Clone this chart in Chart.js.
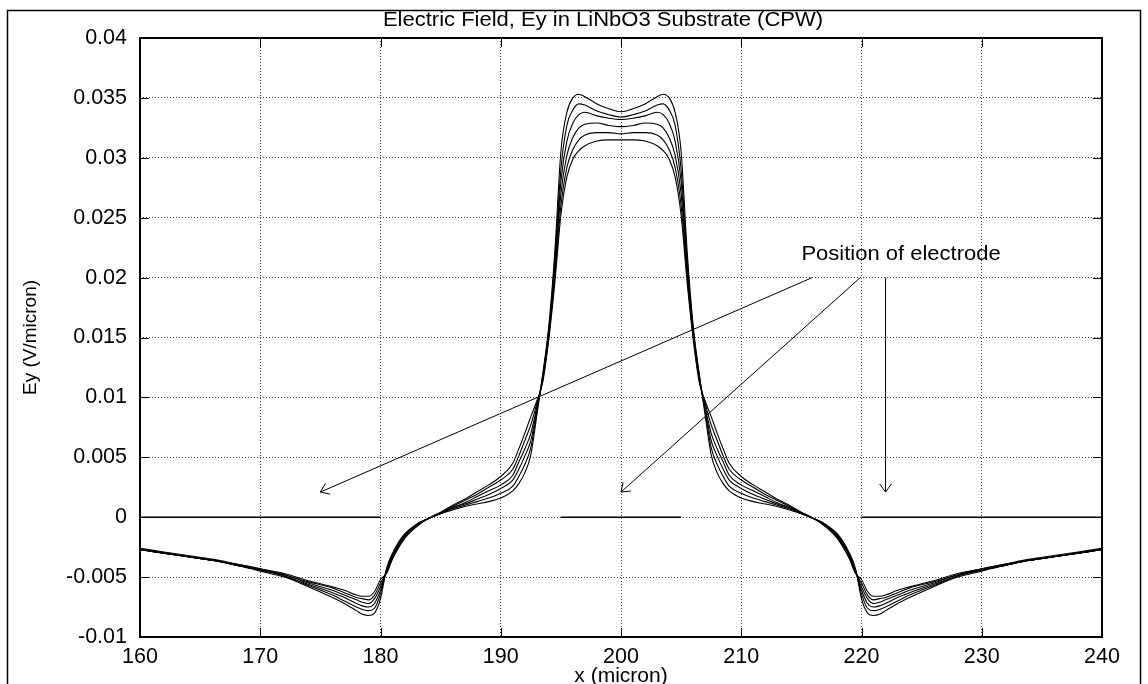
<!DOCTYPE html>
<html>
<head>
<meta charset="utf-8">
<title>Electric Field, Ey in LiNbO3 Substrate (CPW)</title>
<script src="https://cdn.jsdelivr.net/npm/chart.js@4"></script>
<style>
html, body { margin: 0; padding: 0; background: #fff; }
#wrap { width: 1148px; height: 684px; }
</style>
</head>
<body>
<div id="wrap"><canvas id="efield" width="1148" height="684"></canvas></div>
<script>
// x positions (micron) shared by all six field curves
const xMicron = [160,162,164,166,168,170,172,174,176,177,178,178.5,179,179.5,180,180.5,181,182,183,184,185,186,187,188,189,190,191,191.5,192,192.5,193,193.5,194,194.5,195,195.5,196,196.5,197,198,199,200,
  201,202,203,203.5,204,204.5,205,205.5,206,206.5,207,207.5,208,208.5,209,210,211,212,213,214,215,216,217,218,219,219.5,220,220.5,221,221.5,222,223,224,226,228,230,232,234,236,238,240];

// Ey (V/micron), six depths
const ey1 = [-0.0027,-0.0030,-0.0033,-0.0036,-0.0040,-0.0045,-0.0050,-0.0058,-0.0067,-0.0072,-0.0078,-0.0081,-0.0082,-0.0080,-0.0068,-0.0043,-0.0030,-0.0014,-0.0006,-0.0001,0.0003,0.0006,0.0009,0.0011,0.0013,0.0016,0.0022,0.0028,0.0037,0.0052,0.0085,0.0120,0.0160,0.0222,0.0305,0.0338,0.0350,0.0353,0.0351,0.0345,0.0341,0.03385,
  0.0341,0.0345,0.0351,0.0353,0.0350,0.0338,0.0305,0.0222,0.0160,0.0120,0.0085,0.0052,0.0037,0.0028,0.0022,0.0016,0.0013,0.0011,0.0009,0.0006,0.0003,-0.0001,-0.0006,-0.0014,-0.0030,-0.0043,-0.0068,-0.0080,-0.0082,-0.0081,-0.0078,-0.0072,-0.0067,-0.0058,-0.0050,-0.0045,-0.0040,-0.0036,-0.0033,-0.0030,-0.0027];
const ey2 = [-0.0027,-0.0030,-0.0033,-0.0036,-0.0040,-0.0044,-0.0049,-0.0057,-0.0065,-0.0070,-0.0075,-0.0077,-0.0078,-0.0076,-0.0064,-0.0044,-0.0031,-0.0015,-0.0006,-0.0001,0.0003,0.0007,0.0010,0.0013,0.0016,0.0020,0.0026,0.0034,0.0044,0.0058,0.0088,0.0119,0.0157,0.0216,0.0290,0.0327,0.0340,0.0345,0.0344,0.0339,0.0336,0.0334,
  0.0336,0.0339,0.0344,0.0345,0.0340,0.0327,0.0290,0.0216,0.0157,0.0119,0.0088,0.0058,0.0044,0.0034,0.0026,0.0020,0.0016,0.0013,0.0010,0.0007,0.0003,-0.0001,-0.0006,-0.0015,-0.0031,-0.0044,-0.0064,-0.0076,-0.0078,-0.0077,-0.0075,-0.0070,-0.0065,-0.0057,-0.0049,-0.0044,-0.0040,-0.0036,-0.0033,-0.0030,-0.0027];
const ey3 = [-0.0027,-0.0030,-0.0033,-0.0036,-0.0040,-0.0044,-0.0049,-0.0056,-0.0063,-0.0067,-0.0072,-0.0074,-0.0075,-0.0072,-0.0061,-0.0045,-0.0032,-0.0015,-0.0006,-0.0001,0.0003,0.0008,0.0011,0.0015,0.0019,0.0024,0.0031,0.0040,0.0051,0.0064,0.0090,0.0117,0.0155,0.0211,0.0280,0.0314,0.0329,0.0336,0.0338,0.0335,0.0333,0.0332,
  0.0333,0.0335,0.0338,0.0336,0.0329,0.0314,0.0280,0.0211,0.0155,0.0117,0.0090,0.0064,0.0051,0.0040,0.0031,0.0024,0.0019,0.0015,0.0011,0.0008,0.0003,-0.0001,-0.0006,-0.0015,-0.0032,-0.0045,-0.0061,-0.0072,-0.0075,-0.0074,-0.0072,-0.0067,-0.0063,-0.0056,-0.0049,-0.0044,-0.0040,-0.0036,-0.0033,-0.0030,-0.0027];
const ey4 = [-0.0027,-0.0030,-0.0033,-0.0036,-0.0040,-0.0044,-0.0048,-0.0055,-0.0061,-0.0065,-0.0069,-0.0071,-0.0072,-0.0068,-0.0058,-0.0045,-0.0033,-0.0016,-0.0007,-0.0001,0.0004,0.0008,0.0012,0.0017,0.0022,0.0027,0.0035,0.0046,0.0057,0.0070,0.0092,0.0116,0.0153,0.0206,0.0270,0.0302,0.0317,0.0325,0.0328,0.0329,0.0327,0.0326,
  0.0327,0.0329,0.0328,0.0325,0.0317,0.0302,0.0270,0.0206,0.0153,0.0116,0.0092,0.0070,0.0057,0.0046,0.0035,0.0027,0.0022,0.0017,0.0012,0.0008,0.0004,-0.0001,-0.0007,-0.0016,-0.0033,-0.0045,-0.0058,-0.0068,-0.0072,-0.0071,-0.0069,-0.0065,-0.0061,-0.0055,-0.0048,-0.0044,-0.0040,-0.0036,-0.0033,-0.0030,-0.0027];
const ey5 = [-0.0027,-0.0030,-0.0033,-0.0036,-0.0039,-0.0043,-0.0048,-0.0054,-0.0059,-0.0063,-0.0067,-0.0068,-0.0069,-0.0065,-0.0055,-0.0046,-0.0034,-0.0017,-0.0007,-0.0001,0.0004,0.0009,0.0014,0.0019,0.0025,0.0031,0.0040,0.0051,0.0064,0.0077,0.0095,0.0115,0.0151,0.0201,0.0260,0.0292,0.0307,0.0315,0.0319,0.0321,0.0321,0.0320,
  0.0321,0.0321,0.0319,0.0315,0.0307,0.0292,0.0260,0.0201,0.0151,0.0115,0.0095,0.0077,0.0064,0.0051,0.0040,0.0031,0.0025,0.0019,0.0014,0.0009,0.0004,-0.0001,-0.0007,-0.0017,-0.0034,-0.0046,-0.0055,-0.0065,-0.0069,-0.0068,-0.0067,-0.0063,-0.0059,-0.0054,-0.0048,-0.0043,-0.0039,-0.0036,-0.0033,-0.0030,-0.0027];
const ey6 = [-0.0026,-0.0029,-0.0032,-0.0035,-0.0039,-0.0043,-0.0047,-0.0053,-0.0058,-0.0061,-0.0065,-0.0066,-0.0066,-0.0062,-0.0052,-0.0047,-0.0035,-0.0018,-0.0008,-0.0001,0.0004,0.0010,0.0015,0.0021,0.0027,0.0034,0.0045,0.0057,0.0070,0.0084,0.0097,0.0113,0.0149,0.0196,0.0252,0.0284,0.0299,0.0306,0.0310,0.0314,0.0315,0.0315,
  0.0315,0.0314,0.0310,0.0306,0.0299,0.0284,0.0252,0.0196,0.0149,0.0113,0.0097,0.0084,0.0070,0.0057,0.0045,0.0034,0.0027,0.0021,0.0015,0.0010,0.0004,-0.0001,-0.0008,-0.0018,-0.0035,-0.0047,-0.0052,-0.0062,-0.0066,-0.0066,-0.0065,-0.0061,-0.0058,-0.0053,-0.0047,-0.0043,-0.0039,-0.0035,-0.0032,-0.0029,-0.0026];

// electrodes drawn on the Ey = 0 line, [from, to] in micron
const electrodes = [[160, 180], [195, 205], [220, 240]];

const xTicks = [160, 170, 180, 190, 200, 210, 220, 230, 240];
const yTicks = [-0.01, -0.005, 0, 0.005, 0.01, 0.015, 0.02, 0.025, 0.03, 0.035, 0.04];

const titleText = 'Electric Field, Ey in LiNbO3 Substrate (CPW)';
const noteText = 'Position of electrode';
const notePos = [215, 0.0215];
// arrows: [x0, y0, x1, y1] in data units
const arrows = [[215.9, 0.0200, 175, 0.0021], [219.9, 0.0200, 200, 0.0021], [222, 0.0200, 222, 0.0021]];

Chart.defaults.font.family = '"Liberation Sans", Arial, Helvetica, sans-serif';
Chart.defaults.color = '#000';

const curves = [ey1, ey2, ey3, ey4, ey5, ey6];
const datasets = curves.map(function(ys, i) {
    return {
        label: 'Ey ' + (i + 1),
        data: xMicron.map(function(x, j) { return {x: x, y: ys[j]}; }),
        borderColor: '#000',
        borderWidth: 1.1,
        pointRadius: 0,
        fill: false,
        cubicInterpolationMode: 'monotone'
    };
});
electrodes.forEach(function(e, i) {
    datasets.push({
        label: 'electrode ' + (i + 1),
        data: [{x: e[0], y: 0}, {x: e[1], y: 0}],
        borderColor: '#000',
        borderWidth: 1.6,
        pointRadius: 0,
        fill: false
    });
});

// text stretched a little wider, like the original postscript output
function wideText(ctx, text, x, y, size, align, baseline) {
    ctx.save();
    ctx.font = size + 'px "Liberation Sans", Arial, sans-serif';
    ctx.textAlign = align;
    ctx.textBaseline = baseline;
    ctx.translate(x, y);
    ctx.scale(1.1, 1);
    ctx.fillText(text, 0, 0);
    ctx.restore();
}

const extras = {
    id: 'extras',
    afterDraw: function(chart) {
        const ctx = chart.ctx;
        const a = chart.chartArea;
        const xs = chart.scales.x, ys = chart.scales.y;
        ctx.save();
        ctx.strokeStyle = '#000';

        // outer frame
        ctx.lineWidth = 1.5;
        ctx.beginPath();
        ctx.moveTo(7.5, 700);
        ctx.lineTo(7.5, 10.5);
        ctx.lineTo(1140.5, 10.5);
        ctx.lineTo(1140.5, 700);
        ctx.stroke();

        // inward ticks
        ctx.lineWidth = 1;
        ctx.beginPath();
        xTicks.forEach(function(v) {
            const px = Math.round(xs.getPixelForValue(v)) + 0.5;
            ctx.moveTo(px, a.bottom); ctx.lineTo(px, a.bottom - 9);
            ctx.moveTo(px, a.top); ctx.lineTo(px, a.top + 9);
        });
        yTicks.forEach(function(v) {
            const py = Math.round(ys.getPixelForValue(v)) + 0.5;
            ctx.moveTo(a.left, py); ctx.lineTo(a.left + 9, py);
            ctx.moveTo(a.right, py); ctx.lineTo(a.right - 9, py);
        });
        ctx.stroke();

        // plot border
        ctx.lineWidth = 2;
        ctx.strokeRect(a.left, a.top, a.right - a.left, a.bottom - a.top);

        // arrows
        ctx.lineWidth = 1;
        arrows.forEach(function(r) {
            const x0 = xs.getPixelForValue(r[0]), y0 = ys.getPixelForValue(r[1]);
            const x1 = xs.getPixelForValue(r[2]), y1 = ys.getPixelForValue(r[3]);
            const ang = Math.atan2(y1 - y0, x1 - x0);
            const len = 10, spread = Math.PI / 5;
            ctx.beginPath();
            ctx.moveTo(x0, y0); ctx.lineTo(x1, y1);
            ctx.moveTo(x1 - len * Math.cos(ang - spread), y1 - len * Math.sin(ang - spread));
            ctx.lineTo(x1, y1);
            ctx.lineTo(x1 - len * Math.cos(ang + spread), y1 - len * Math.sin(ang + spread));
            ctx.stroke();
        });

        // texts
        ctx.fillStyle = '#000';
        wideText(ctx, noteText, xs.getPixelForValue(notePos[0]), ys.getPixelForValue(notePos[1]), 20, 'left', 'alphabetic');
        wideText(ctx, titleText, 603, 20, 20, 'center', 'middle');
        ctx.restore();
    }
};

new Chart(document.getElementById('efield'), {
    type: 'line',
    data: {datasets: datasets},
    options: {
        responsive: false,
        animation: false,
        events: [],
        layout: {padding: {left: 0, right: 46, top: 38, bottom: 0}},
        plugins: {legend: {display: false}, tooltip: {enabled: false}},
        scales: {
            x: {
                type: 'linear',
                min: 160,
                max: 240,
                afterBuildTicks: function(s) { s.ticks = xTicks.map(function(v) { return {value: v}; }); },
                afterFit: function(s) { s.height = 47; },
                grid: {color: '#444', lineWidth: 1, drawTicks: false},
                border: {display: false, dash: [1, 2]},
                ticks: {padding: 7, maxRotation: 0, font: {size: 21.5}, callback: function(v) { return String(v); }},
                title: {display: true, text: 'x (micron)', font: {size: 21, lineHeight: 0.78}, padding: 0}
            },
            y: {
                type: 'linear',
                min: -0.01,
                max: 0.04,
                afterBuildTicks: function(s) { s.ticks = yTicks.map(function(v) { return {value: v}; }); },
                afterFit: function(s) { s.width = 140; },
                grid: {color: '#444', lineWidth: 1, drawTicks: false},
                border: {display: false, dash: [1, 2]},
                ticks: {padding: 13, font: {size: 21.5}, callback: function(v) { return String(+v.toFixed(3)); }},
                title: {display: true, text: 'Ey (V/micron)', font: {size: 19}, padding: {top: 19, bottom: 0}}
            }
        }
    },
    plugins: [extras]
});
</script>
</body>
</html>
